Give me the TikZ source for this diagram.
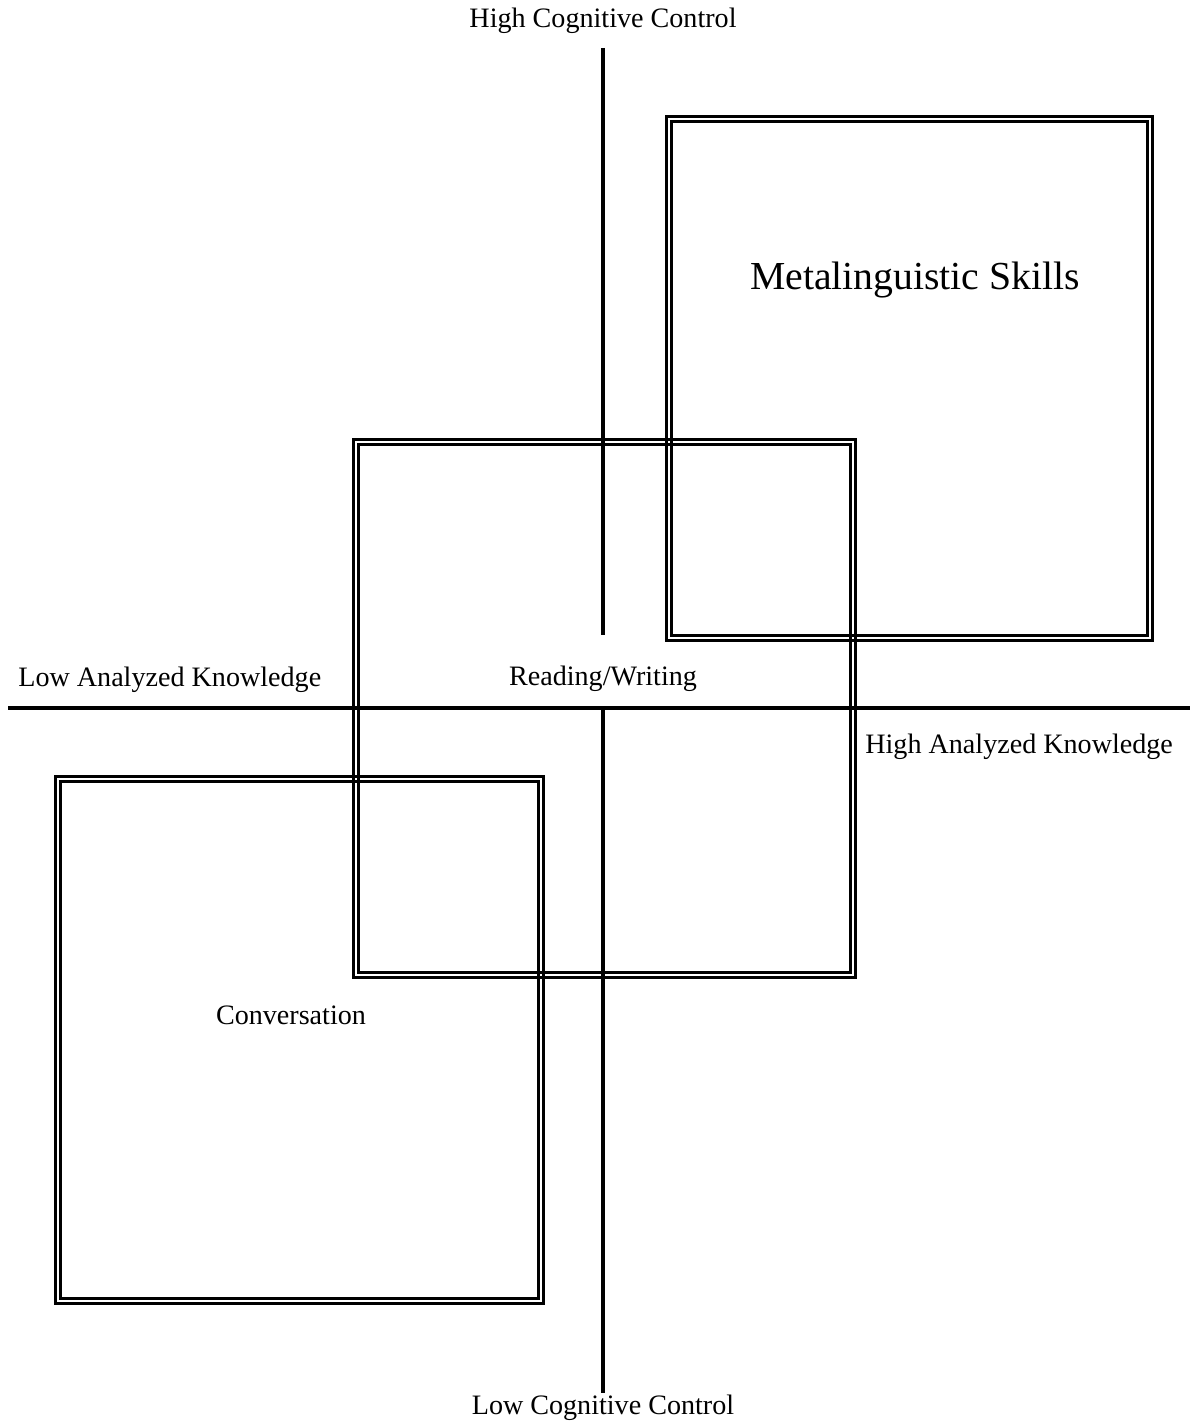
\documentclass[tikz,border=0pt]{standalone}
\usepackage{fontspec}
\setmainfont{Liberation Serif}
\usepackage{tikz}
\usetikzlibrary{positioning}
\tikzset{axisline/.style={line width=2.5pt}}
\tikzset{boxline/.style={line width=1.45pt}}
\tikzset{lbl/.style={inner sep=0pt, font=\fontsize{16}{19}\selectfont}}
\tikzset{biglbl/.style={inner sep=0pt, font=\fontsize{22.6}{27}\selectfont}}

\begin{document}
\begin{tikzpicture}[x=0.02cm,y=-0.02cm]
          \useasboundingbox (0,0) rectangle (1190,1422);
          % axes
          \coordinate (ctop) at (603,48);
          \coordinate (cgap) at (603,635);
          \coordinate (cbot) at (603,1393);
          \coordinate (kleft) at (8,708);
          \coordinate (kright) at (1190,708);
          \coordinate (origin) at (603,708);
          \draw[axisline] (kleft) -- (kright);
          \draw[axisline] (ctop) -- (cgap);
          \draw[axisline] (origin) -- (cbot);
          % double framed boxes
          \foreach \xa/\ya/\xb/\yb in {665/115/1154/642, 352/438/857/979, 54/775/545/1305} {
            \draw[boxline] (\xa+1.3,\ya+1.3) rectangle (\xb-1.3,\yb-1.3);
            \draw[boxline] (\xa+6.3,\ya+6.3) rectangle (\xb-6.3,\yb-6.3);
          }
          % labels
          \node[lbl] (hicc) at (603,21) {High Cognitive Control};
          \node[lbl] (locc) at (603,1408) {Low Cognitive Control};
          \node[lbl, anchor=west] (loak) at (18,680) {Low Analyzed Knowledge};
          \node[lbl, anchor=west] (hiak) at (865,747) {High Analyzed Knowledge};
          \node[lbl] (rw) at (603,679) {Reading/Writing};
          \node[lbl] (conv) at (291,1015) {Conversation};
          \node[biglbl] (meta) at (915,280) {Metalinguistic Skills};
        \end{tikzpicture}
\end{document}
